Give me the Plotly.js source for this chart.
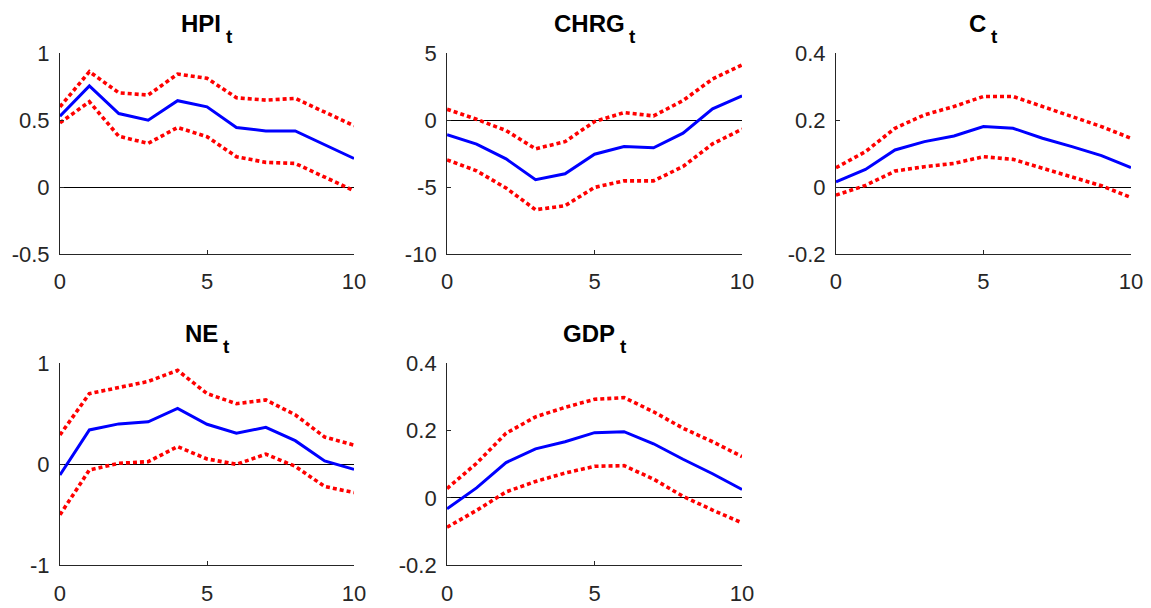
<!DOCTYPE html>
<html>
<head>
<meta charset="utf-8">
<script src="https://cdn.plot.ly/plotly-3.0.1.min.js"></script>
<style>
  html, body { margin: 0; padding: 0; background: #fff; }
  #chart { width: 1151px; height: 608px; }
</style>
</head>
<body>
<div id="chart"></div>
<script>
// Impulse responses over 0..10 periods: median response with lower/upper bands
const horizon = [0, 1, 2, 3, 4, 5, 6, 7, 8, 9, 10];

const hpiMid   = [0.53, 0.756, 0.55, 0.50, 0.646, 0.60, 0.446, 0.42, 0.42, 0.32, 0.214];
const hpiUpper = [0.60, 0.863, 0.705, 0.688, 0.845, 0.813, 0.668, 0.65, 0.663, 0.56, 0.459];
const hpiLower = [0.48, 0.638, 0.38, 0.327, 0.446, 0.377, 0.227, 0.185, 0.177, 0.077, -0.027];

const chrgMid   = [-1.09, -1.79, -2.89, -4.45, -4.0, -2.54, -1.97, -2.06, -0.97, 0.85, 1.82];
const chrgUpper = [0.82, 0.07, -0.77, -2.14, -1.6, -0.1, 0.57, 0.32, 1.47, 3.08, 4.13];
const chrgLower = [-2.96, -3.78, -5.07, -6.69, -6.39, -5.02, -4.53, -4.53, -3.46, -1.77, -0.67];

const cMid   = [0.016, 0.053, 0.111, 0.136, 0.153, 0.181, 0.176, 0.146, 0.121, 0.094, 0.058];
const cUpper = [0.058, 0.106, 0.176, 0.216, 0.241, 0.271, 0.271, 0.241, 0.209, 0.181, 0.146];
const cLower = [-0.024, 0.005, 0.048, 0.061, 0.071, 0.091, 0.083, 0.056, 0.031, 0.004, -0.031];

const neMid   = [-0.106, 0.34, 0.40, 0.42, 0.554, 0.396, 0.307, 0.366, 0.234, 0.033, -0.05];
const neUpper = [0.29, 0.70, 0.76, 0.82, 0.93, 0.70, 0.60, 0.637, 0.49, 0.27, 0.19];
const neLower = [-0.50, -0.056, 0.01, 0.026, 0.175, 0.053, 0.0, 0.1, -0.02, -0.22, -0.28];

const gdpMid   = [-0.032, 0.03, 0.105, 0.146, 0.167, 0.194, 0.197, 0.161, 0.115, 0.072, 0.025];
const gdpUpper = [0.028, 0.103, 0.192, 0.241, 0.269, 0.293, 0.298, 0.256, 0.207, 0.167, 0.123];
const gdpLower = [-0.087, -0.037, 0.018, 0.049, 0.074, 0.094, 0.096, 0.056, 0.005, -0.036, -0.074];

// Panel titles (variable name with a time subscript) and axis ticks
const panelNames = ["HPI", "CHRG", "C", "NE", "GDP"];
const subscript = "t";
const xTickVals = [0, 5, 10];
const xTickText = ["0", "5", "10"];
const yTickVals = [
  [-0.5, 0, 0.5, 1],
  [-10, -5, 0, 5],
  [-0.2, 0, 0.2, 0.4],
  [-1, 0, 1],
  [-0.2, 0, 0.2, 0.4]
];
const yTickText = [
  ["-0.5", "0", "0.5", "1"],
  ["-10", "-5", "0", "5"],
  ["-0.2", "0", "0.2", "0.4"],
  ["-1", "0", "1"],
  ["-0.2", "0", "0.2", "0.4"]
];
const yRanges = [[-0.5, 1], [-10, 5], [-0.2, 0.4], [-1, 1], [-0.2, 0.4]];

const panels = [
  [hpiMid, hpiUpper, hpiLower],
  [chrgMid, chrgUpper, chrgLower],
  [cMid, cUpper, cLower],
  [neMid, neUpper, neLower],
  [gdpMid, gdpUpper, gdpLower]
];

// Grid placement (paper fractions)
const colDomains = [[0.0521, 0.3076], [0.3884, 0.6447], [0.7263, 0.9826]];
const rowDomains = [[0.5822, 0.9123], [0.0702, 0.4025]];
const placement = [[0, 0], [0, 1], [0, 2], [1, 0], [1, 1]];

const axisColor = "#262626";
const fontFamily = "Liberation Sans, Arial, sans-serif";
const tickFont = { family: fontFamily, size: 22, color: axisColor };
const titleSize = 24;
const subSize = 19;
const subGap = 5;

// Text widths, used to centre "name + subscript" as one group
const measureCtx = document.createElement("canvas").getContext("2d");
function textWidth(str, size) {
  measureCtx.font = "bold " + size + "px 'Liberation Sans', Arial, sans-serif";
  return measureCtx.measureText(str).width;
}

const traces = [];
const layout = {
  width: 1151,
  height: 608,
  margin: { l: 0, r: 0, t: 0, b: 0 },
  paper_bgcolor: "#ffffff",
  plot_bgcolor: "#ffffff",
  showlegend: false,
  annotations: []
};

panels.forEach((series, i) => {
  const n = i + 1;
  const xa = "x" + (n === 1 ? "" : n);
  const ya = "y" + (n === 1 ? "" : n);
  const [mid, upper, lower] = series;

  traces.push({
    x: horizon, y: upper, xaxis: xa, yaxis: ya, mode: "lines",
    line: { color: "#ff0000", width: 3.6, dash: "4px,3px" }, hoverinfo: "skip"
  });
  traces.push({
    x: horizon, y: lower, xaxis: xa, yaxis: ya, mode: "lines",
    line: { color: "#ff0000", width: 3.6, dash: "4px,3px" }, hoverinfo: "skip"
  });
  traces.push({
    x: horizon, y: mid, xaxis: xa, yaxis: ya, mode: "lines",
    line: { color: "#0000ff", width: 3 }, hoverinfo: "skip"
  });

  const [r, c] = placement[i];
  const xKey = "xaxis" + (n === 1 ? "" : n);
  const yKey = "yaxis" + (n === 1 ? "" : n);

  layout[xKey] = {
    domain: colDomains[c],
    anchor: ya,
    range: [0, 10],
    tickvals: xTickVals,
    ticktext: xTickText,
    ticks: "inside",
    ticklen: 4,
    tickcolor: axisColor,
    showline: true,
    linecolor: axisColor,
    linewidth: 1,
    showgrid: false,
    zeroline: false,
    tickfont: tickFont,
    ticklabelstandoff: 8,
    fixedrange: true
  };
  layout[yKey] = {
    domain: rowDomains[r],
    anchor: xa,
    range: yRanges[i],
    tickvals: yTickVals[i],
    ticktext: yTickText[i],
    ticks: "inside",
    ticklen: 4,
    tickcolor: axisColor,
    showline: true,
    linecolor: axisColor,
    linewidth: 1,
    showgrid: false,
    zeroline: true,
    zerolinecolor: "#000000",
    zerolinewidth: 1,
    tickfont: tickFont,
    ticklabelstandoff: 5,
    fixedrange: true
  };

  // Title: bold name followed by a lowered bold subscript, centred as a pair
  const wName = textWidth(panelNames[i], titleSize);
  const wSub = textWidth(subscript, subSize);
  const total = wName + subGap + wSub;
  const cx = (colDomains[c][0] + colDomains[c][1]) / 2;

  layout.annotations.push({
    xref: "paper", yref: "paper",
    x: cx, y: rowDomains[r][1],
    xanchor: "left", yanchor: "bottom",
    xshift: -total / 2 - 1, yshift: 15,
    showarrow: false, borderpad: 0,
    text: "<b>" + panelNames[i] + "</b>",
    font: { family: fontFamily, size: titleSize, color: "#000000" }
  });
  layout.annotations.push({
    xref: "paper", yref: "paper",
    x: cx, y: rowDomains[r][1],
    xanchor: "left", yanchor: "bottom",
    xshift: -total / 2 + wName + subGap - 1, yshift: 5,
    showarrow: false, borderpad: 0,
    text: "<b>" + subscript + "</b>",
    font: { family: fontFamily, size: subSize, color: "#000000" }
  });
});

Plotly.newPlot("chart", traces, layout, { staticPlot: true, displayModeBar: false });
</script>
</body>
</html>
